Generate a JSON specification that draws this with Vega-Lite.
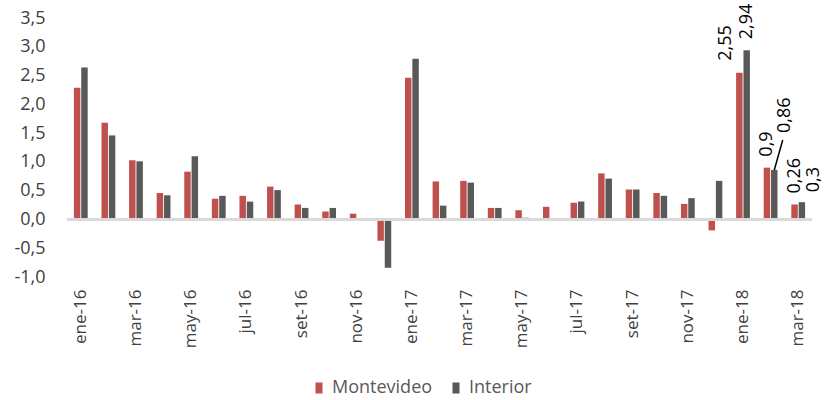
{
  "$schema": "https://vega.github.io/schema/vega-lite/v6.json",
  "width": 745,
  "height": 259,
  "autosize": "none",
  "padding": {"left": 67, "top": 18, "right": 20, "bottom": 123},
  "background": "white",
  "config": {
    "view": {"stroke": null},
    "font": "Open Sans",
    "axisY": {"title": null, "domain": false, "ticks": false, "grid": false, "labelOverlap": false, "format": ".1f", "labelPadding": 22, "labelFontSize": 18, "labelColor": "#404040", "values": [-1, -0.5, 0, 0.5, 1, 1.5, 2, 2.5, 3, 3.5]},
    "axisX": {"title": null, "domain": false, "ticks": false, "labelAngle": -90, "labelPadding": 12, "labelFontSize": 17, "labelColor": "#404040", "labelOverlap": false},
    "locale": {"number": {"decimal": ",", "thousands": ".", "grouping": [3], "currency": ["", " €"], "minus": "-"}}
  },
  "data": {"values": [
    {"mes": "ene-16", "serie": "Montevideo", "valor": 2.29}, {"mes": "ene-16", "serie": "Interior", "valor": 2.64},
    {"mes": "feb-16", "serie": "Montevideo", "valor": 1.68}, {"mes": "feb-16", "serie": "Interior", "valor": 1.46},
    {"mes": "mar-16", "serie": "Montevideo", "valor": 1.03}, {"mes": "mar-16", "serie": "Interior", "valor": 1.01},
    {"mes": "abr-16", "serie": "Montevideo", "valor": 0.46}, {"mes": "abr-16", "serie": "Interior", "valor": 0.42},
    {"mes": "may-16", "serie": "Montevideo", "valor": 0.83}, {"mes": "may-16", "serie": "Interior", "valor": 1.10},
    {"mes": "jun-16", "serie": "Montevideo", "valor": 0.36}, {"mes": "jun-16", "serie": "Interior", "valor": 0.41},
    {"mes": "jul-16", "serie": "Montevideo", "valor": 0.41}, {"mes": "jul-16", "serie": "Interior", "valor": 0.31},
    {"mes": "ago-16", "serie": "Montevideo", "valor": 0.57}, {"mes": "ago-16", "serie": "Interior", "valor": 0.51},
    {"mes": "set-16", "serie": "Montevideo", "valor": 0.26}, {"mes": "set-16", "serie": "Interior", "valor": 0.20},
    {"mes": "oct-16", "serie": "Montevideo", "valor": 0.14}, {"mes": "oct-16", "serie": "Interior", "valor": 0.20},
    {"mes": "nov-16", "serie": "Montevideo", "valor": 0.10}, {"mes": "nov-16", "serie": "Interior", "valor": 0},
    {"mes": "dic-16", "serie": "Montevideo", "valor": -0.37}, {"mes": "dic-16", "serie": "Interior", "valor": -0.84},
    {"mes": "ene-17", "serie": "Montevideo", "valor": 2.46}, {"mes": "ene-17", "serie": "Interior", "valor": 2.79},
    {"mes": "feb-17", "serie": "Montevideo", "valor": 0.66}, {"mes": "feb-17", "serie": "Interior", "valor": 0.24},
    {"mes": "mar-17", "serie": "Montevideo", "valor": 0.67}, {"mes": "mar-17", "serie": "Interior", "valor": 0.64},
    {"mes": "abr-17", "serie": "Montevideo", "valor": 0.20}, {"mes": "abr-17", "serie": "Interior", "valor": 0.20},
    {"mes": "may-17", "serie": "Montevideo", "valor": 0.16}, {"mes": "may-17", "serie": "Interior", "valor": 0.03},
    {"mes": "jun-17", "serie": "Montevideo", "valor": 0.22}, {"mes": "jun-17", "serie": "Interior", "valor": 0},
    {"mes": "jul-17", "serie": "Montevideo", "valor": 0.29}, {"mes": "jul-17", "serie": "Interior", "valor": 0.31},
    {"mes": "ago-17", "serie": "Montevideo", "valor": 0.80}, {"mes": "ago-17", "serie": "Interior", "valor": 0.71},
    {"mes": "set-17", "serie": "Montevideo", "valor": 0.52}, {"mes": "set-17", "serie": "Interior", "valor": 0.52},
    {"mes": "oct-17", "serie": "Montevideo", "valor": 0.46}, {"mes": "oct-17", "serie": "Interior", "valor": 0.41},
    {"mes": "nov-17", "serie": "Montevideo", "valor": 0.27}, {"mes": "nov-17", "serie": "Interior", "valor": 0.37},
    {"mes": "dic-17", "serie": "Montevideo", "valor": -0.19}, {"mes": "dic-17", "serie": "Interior", "valor": 0.67},
    {"mes": "ene-18", "serie": "Montevideo", "valor": 2.55}, {"mes": "ene-18", "serie": "Interior", "valor": 2.94},
    {"mes": "feb-18", "serie": "Montevideo", "valor": 0.90}, {"mes": "feb-18", "serie": "Interior", "valor": 0.86},
    {"mes": "mar-18", "serie": "Montevideo", "valor": 0.26}, {"mes": "mar-18", "serie": "Interior", "valor": 0.30}
  ]},
  "layer": [
    {
      "mark": {"type": "bar"},
      "encoding": {
        "x": {
          "field": "mes", "type": "ordinal", "sort": null,
          "scale": {"paddingInner": 0.5, "paddingOuter": 0.25},
          "axis": {
            "values": ["ene-16", "mar-16", "may-16", "jul-16", "set-16", "nov-16", "ene-17", "mar-17", "may-17", "jul-17", "set-17", "nov-17", "ene-18", "mar-18"]
          }
        },
        "xOffset": {"field": "serie", "sort": ["Montevideo", "Interior"], "scale": {"paddingInner": 0.12}},
        "y": {
          "field": "valor", "type": "quantitative",
          "scale": {"domain": [-1, 3.5], "nice": false}
        },
        "color": {
          "field": "serie", "type": "nominal", "sort": ["Montevideo", "Interior"],
          "scale": {"domain": ["Montevideo", "Interior"], "range": ["#C0504D", "#595959"]},
          "legend": {
            "title": null, "orient": "none", "legendX": 243, "legendY": 361, "direction": "horizontal",
            "symbolType": "M-0.64,-1H0.64V1H-0.64Z", "symbolSize": 121, "symbolStrokeWidth": 0,
            "labelFontSize": 18, "labelColor": "#595959", "columnPadding": 14, "labelOffset": 4
          }
        }
      }
    },
    {
      "mark": {"type": "rule", "color": "#D9D9D9", "strokeWidth": 2},
      "encoding": {"y": {"datum": 0, "type": "quantitative"}}
    },
    {
      "transform": [{"filter": "datum.mes == 'feb-18' && datum.serie == 'Interior'"}],
      "mark": {"type": "rule", "color": "#000000", "strokeWidth": 1.5, "x2Offset": 19},
      "encoding": {
        "x": {"field": "mes", "type": "ordinal", "sort": null},
        "xOffset": {"field": "serie", "sort": ["Montevideo", "Interior"]},
        "x2": {"field": "mes", "bandPosition": 0},
        "y": {"field": "valor", "type": "quantitative"},
        "y2": {"datum": 1.38}
      }
    },
    {
      "transform": [{"filter": "indexof(['ene-18','feb-18','mar-18'], datum.mes) >= 0 && !(datum.mes == 'feb-18' && datum.serie == 'Interior') && !(datum.mes == 'mar-18' && datum.serie == 'Interior') && !(datum.mes == 'ene-18' && datum.serie == 'Montevideo')"}],
      "mark": {"type": "text", "angle": 270, "align": "left", "baseline": "middle", "dx": 11, "fontSize": 18, "color": "#000000"},
      "encoding": {
        "x": {"field": "mes", "type": "ordinal", "sort": null},
        "xOffset": {"field": "serie", "sort": ["Montevideo", "Interior"]},
        "y": {"field": "valor", "type": "quantitative"},
        "text": {"field": "valor", "type": "quantitative", "format": ".2~f"}
      }
    },
    {
      "transform": [{"filter": "datum.mes == 'ene-18' && datum.serie == 'Montevideo'"}],
      "mark": {"type": "text", "angle": 270, "align": "left", "baseline": "middle", "dx": 12, "dy": -13, "fontSize": 18, "color": "#000000"},
      "encoding": {
        "x": {"field": "mes", "type": "ordinal", "sort": null},
        "xOffset": {"field": "serie", "sort": ["Montevideo", "Interior"]},
        "y": {"field": "valor", "type": "quantitative"},
        "text": {"field": "valor", "type": "quantitative", "format": ".2~f"}
      }
    },
    {
      "transform": [{"filter": "datum.mes == 'feb-18' && datum.serie == 'Interior'"}],
      "mark": {"type": "text", "angle": 270, "align": "left", "baseline": "middle", "dx": 37, "dy": 11, "fontSize": 18, "color": "#000000"},
      "encoding": {
        "x": {"field": "mes", "type": "ordinal", "sort": null},
        "xOffset": {"field": "serie", "sort": ["Montevideo", "Interior"]},
        "y": {"field": "valor", "type": "quantitative"},
        "text": {"field": "valor", "type": "quantitative", "format": ".2~f"}
      }
    },
    {
      "transform": [{"filter": "datum.mes == 'mar-18' && datum.serie == 'Interior'"}],
      "mark": {"type": "text", "angle": 270, "align": "left", "baseline": "middle", "dx": 10, "dy": 12, "fontSize": 18, "color": "#000000"},
      "encoding": {
        "x": {"field": "mes", "type": "ordinal", "sort": null},
        "xOffset": {"field": "serie", "sort": ["Montevideo", "Interior"]},
        "y": {"field": "valor", "type": "quantitative"},
        "text": {"field": "valor", "type": "quantitative", "format": ".2~f"}
      }
    }
  ]
}
